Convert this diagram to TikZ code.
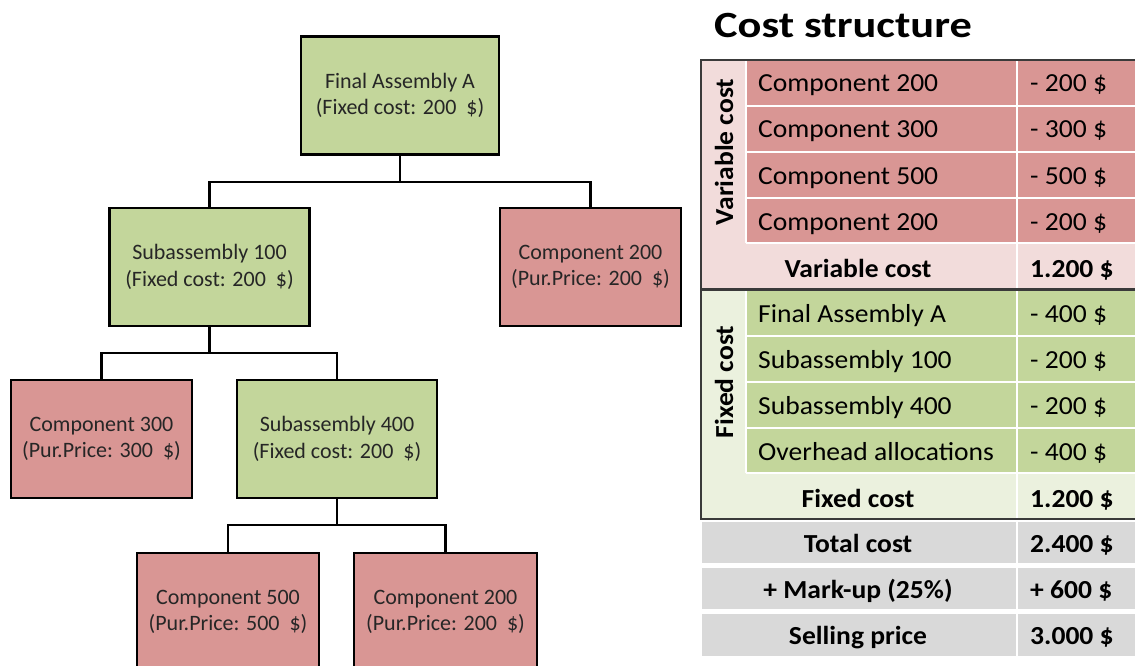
\documentclass[tikz,border=0pt]{standalone}
\usepackage{fontspec}
\setmainfont{Carlito}
\newfontfamily\tabfont[FakeStretch=1.06]{Carlito}
\newfontfamily\titlefont[FakeStretch=1.2]{Carlito}

\definecolor{asmfill}{HTML}{C3D69B}
\definecolor{compfill}{HTML}{D99694}
\definecolor{varbg}{HTML}{F2DCDB}
\definecolor{fixbg}{HTML}{EBF1DE}
\definecolor{sumgray}{HTML}{D9D9D9}
\definecolor{framegray}{HTML}{3A3A3A}
\definecolor{treetext}{HTML}{262626}

\tikzset{
  treebox/.style={draw=black, line width=2.8pt, minimum height=118pt,
    align=center, inner sep=0pt, text=treetext,
    font=\fontsize{22}{26.5}\selectfont},
  asmbox/.style={treebox, fill=asmfill},
  compbox/.style={treebox, fill=compfill},
  conn/.style={draw=black, line width=2.8pt},
  cellname/.style={anchor=base west, inner sep=0pt, font=\tabfont\fontsize{26}{30}\selectfont},
  cellval/.style={anchor=base west, inner sep=0pt, font=\tabfont\fontsize{26}{30}\selectfont},
  sumname/.style={anchor=base, inner sep=0pt, font=\tabfont\bfseries\fontsize{26}{30}\selectfont},
  sumval/.style={anchor=base west, inner sep=0pt, font=\tabfont\bfseries\fontsize{26}{30}\selectfont},
  sidelabel/.style={rotate=90, inner sep=0pt, font=\tabfont\bfseries\fontsize{26}{30}\selectfont},
  sep/.style={draw=white, line width=1.6pt}
}

\begin{document}
\begin{tikzpicture}[x=1pt, y=-1pt]
\useasboundingbox (0,0) rectangle (1135,666);
\clip (0,0) rectangle (1135,666);

% ---------- product tree ----------
\node[asmbox,  minimum width=198pt] (fa)      at (400,95.5) {Final Assembly A\\(Fixed cost: 200\ \ \$)};
\node[asmbox,  minimum width=200pt] (sub100)  at (209.5,267) {Subassembly 100\\(Fixed cost: 200\ \ \$)};
\node[compbox, minimum width=181pt] (c200a)   at (590.5,267) {Component 200\\(Pur.Price: 200\ \ \$)};
\node[compbox, minimum width=181pt] (c300)    at (101.5,439) {Component 300\\(Pur.Price: 300\ \ \$)};
\node[asmbox,  minimum width=200pt] (sub400)  at (337,439)   {Subassembly 400\\(Fixed cost: 200\ \ \$)};
\node[compbox, minimum width=182pt] (c500)    at (228,612)   {Component 500\\(Pur.Price: 500\ \ \$)};
\node[compbox, minimum width=183pt] (c200b)   at (445.5,612) {Component 200\\(Pur.Price: 200\ \ \$)};

\coordinate (j1) at (400,182);
\coordinate (j2) at (209.5,353);
\coordinate (j3) at (337,525);

\draw[conn] (fa.south) -- (j1);
\draw[conn] (sub100.north) |- (j1) -| (c200a.north);
\draw[conn] (sub100.south) -- (j2);
\draw[conn] (c300.north) |- (j2) -| (sub400.north);
\draw[conn] (sub400.south) -- (j3);
\draw[conn] (c500.north) |- (j3) -| (c200b.north);

% ---------- cost structure table ----------
\node[anchor=base west, inner sep=0pt, font=\titlefont\bfseries\fontsize{37}{40}\selectfont] (title) at (714,38) {Cost structure};

% variable cost block
\fill[varbg]    (701,60) rectangle (1140,289);
\fill[compfill] (746,60) rectangle (1140,243);
\foreach \yy in {106,152,198,243} \draw[sep] (746,\yy) -- (1140,\yy);
\draw[sep] (746,60) -- (746,243);
\draw[sep] (1017,60) -- (1017,289);

% fixed cost block
\fill[fixbg]    (701,290) rectangle (1140,519);
\fill[asmfill]  (746,290) rectangle (1140,473);
\foreach \yy in {336,382,428,473} \draw[sep] (746,\yy) -- (1140,\yy);
\draw[sep] (746,290) -- (746,473);
\draw[sep] (1017,290) -- (1017,519);

% frame
\draw[framegray, line width=2.2pt] (1140,60) -- (701,60) -- (701,519) -- (1140,519);
\draw[framegray, line width=2.2pt] (701,289.5) -- (1140,289.5);

% totals
\fill[sumgray] (702,522) rectangle (1140,563);
\fill[sumgray] (702,568) rectangle (1140,609);
\fill[sumgray] (702,614) rectangle (1140,656);
\draw[sep] (1017,520) -- (1017,657);

% side labels
\node[sidelabel] (vlab) at (724,152) {Variable cost};
\node[sidelabel] (flab) at (724,382) {Fixed cost};

% variable rows
\node[cellname] (v1) at (758,92)  {Component 200};
\node[cellname] (v2) at (758,138) {Component 300};
\node[cellname] (v3) at (758,184) {Component 500};
\node[cellname] (v4) at (758,230) {Component 200};
\node[cellval]  (w1) at (1030,92)  {- 200 \$};
\node[cellval]  (w2) at (1030,138) {- 300 \$};
\node[cellval]  (w3) at (1030,184) {- 500 \$};
\node[cellval]  (w4) at (1030,230) {- 200 \$};
\node[sumname]  (vs) at (858,277)  {Variable cost};
\node[sumval]   (vt) at (1030,277) {1.200 \$};

% fixed rows
\node[cellname] (f1) at (758,322) {Final Assembly A};
\node[cellname] (f2) at (758,368) {Subassembly 100};
\node[cellname] (f3) at (758,414) {Subassembly 400};
\node[cellname] (f4) at (758,460) {Overhead allocations};
\node[cellval]  (g1) at (1030,322) {- 400 \$};
\node[cellval]  (g2) at (1030,368) {- 200 \$};
\node[cellval]  (g3) at (1030,414) {- 200 \$};
\node[cellval]  (g4) at (1030,460) {- 400 \$};
\node[sumname]  (fs) at (858,507)  {Fixed cost};
\node[sumval]   (ft) at (1030,507) {1.200 \$};

% totals text
\node[sumname] (tc)  at (858,552)  {Total cost};
\node[sumval]  (tcv) at (1030,552) {2.400 \$};
\node[sumname] (mu)  at (858,598)  {+ Mark-up (25\%)};
\node[sumval]  (muv) at (1030,598) {+ 600 \$};
\node[sumname] (sp)  at (858,644)  {Selling price};
\node[sumval]  (spv) at (1030,644) {3.000 \$};
\end{tikzpicture}
\end{document}
